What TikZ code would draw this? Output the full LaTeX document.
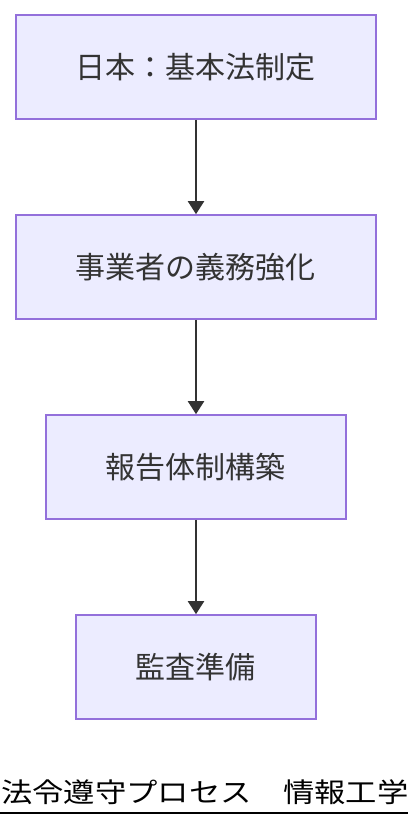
\documentclass[tikz,border=0pt]{standalone}
\usepackage{fontspec}
\setmainfont{Noto Sans CJK JP}
\newfontfamily\titlefont[FakeStretch=1.16]{Noto Sans CJK JP}
\usepackage{xcolor}
\usetikzlibrary{arrows.meta}
\usetikzlibrary{matrix}
\definecolor{boxfill}{HTML}{ECECFF}
\definecolor{boxline}{HTML}{9370DB}
\definecolor{inkgray}{HTML}{333333}
\newcommand\boxfont{\fontsize{30pt}{36pt}\selectfont}
\tikzstyle{procbox}=[draw=boxline,fill=boxfill,line width=1.6pt,minimum height=104pt,inner xsep=60pt,anchor=center,text=inkgray,font=\boxfont]
\tikzstyle{flowhead}=[>/.tip={Triangle[length=13pt,width=16pt]}]
\tikzstyle{flow}=[line width=2pt,draw=inkgray,flowhead,->]
\tikzstyle{caption}=[anchor=base west,inner sep=0pt,font=\titlefont\fontsize{27pt}{30pt}\selectfont]

\begin{document}
\begin{tikzpicture}[x=1pt,y=-1pt]
	\useasboundingbox (0,0) rectangle (408,828);
	\matrix[matrix of nodes, nodes={procbox}, row sep=94.4pt, inner sep=0pt] (m) at (196,367) {
	  日本：基本法制定 \\
	  事業者の義務強化 \\
	  報告体制構築 \\
	  監査準備 \\
	};
	\draw[flow] (m-1-1) -- (m-2-1);
	\draw[flow] (m-2-1) -- (m-3-1);
	\draw[flow] (m-3-1) -- (m-4-1);
	% title below the chart
	\node[caption] (title) at (1,802) {法令遵守プロセス　情報工学};
	\draw[line width=2pt] (0,813) -- (408,813);
\end{tikzpicture}
\end{document}
